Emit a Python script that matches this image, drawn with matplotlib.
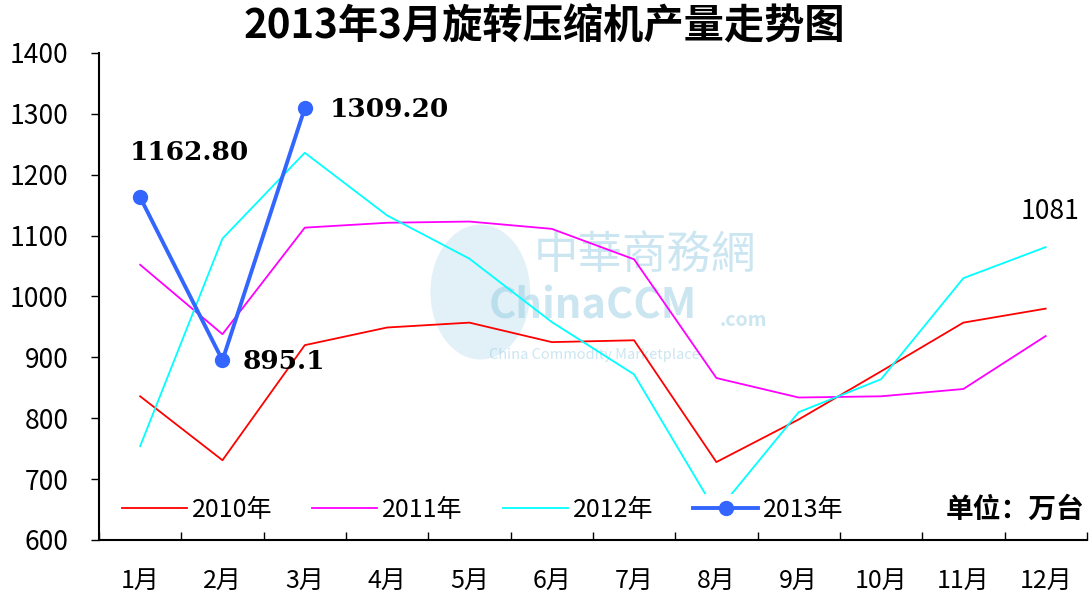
import matplotlib
matplotlib.use("Agg")
import matplotlib.pyplot as plt
from matplotlib.patches import Ellipse
import numpy as np

plt.rcParams['font.family'] = ['Noto Sans CJK SC', 'DejaVu Sans']

months = ['1月', '2月', '3月', '4月', '5月', '6月', '7月', '8月', '9月', '10月', '11月', '12月']
y2010 = [836, 731, 920, 949, 957, 925, 928, 728, 798, 877, 957, 980]
y2011 = [1052, 938, 1113, 1121, 1123, 1111, 1061, 866, 834, 836, 848, 935]
y2012 = [754, 1095, 1236, 1133, 1062, 958, 872, 645, 810, 864, 1030, 1081]
y2013 = [1162.8, 895.1, 1309.2]

fig = plt.figure(figsize=(10.89, 6.01), dpi=100, facecolor='white')
ax = fig.add_axes([0.0909, 0.1015, 0.9071, 0.8105])

x = np.arange(len(months))
ax.plot(x, y2010, color='#FF0000', lw=1.3, label='2010年')
ax.plot(x, y2011, color='#FF00FF', lw=1.3, label='2011年')
ax.plot(x, y2012, color='#00FFFF', lw=1.3, label='2012年')
ax.plot(x[:3], y2013, color='#3366FF', lw=2.8, marker='o', markersize=10, label='2013年')

ax.set_xlim(-0.5, 11.5)
ax.set_ylim(600, 1400)
ax.set_yticks(range(600, 1401, 100))
ax.set_xticks(x)
ax.set_xticklabels(months, fontsize=18)
ax.set_xticks(np.arange(-0.5, 12, 1), minor=True)
ax.tick_params(axis='x', which='major', length=0, pad=20)
ax.tick_params(axis='x', which='minor', direction='in', length=6, width=1)
ax.tick_params(axis='y', direction='out', length=6, width=1, labelsize=19, pad=16)
for s in ['top', 'right']:
    ax.spines[s].set_visible(False)
for s in ['left', 'bottom']:
    ax.spines[s].set_linewidth(1.5)

# watermark
ax.add_patch(Ellipse((0.386, 0.509), 0.101, 0.277, transform=ax.transAxes,
                     facecolor='#bfe0ee', edgecolor='none', alpha=0.45, zorder=0))
ax.text(0.44, 0.585, '中華商務網', transform=ax.transAxes, fontsize=32, color='#8cc8e2',
        alpha=0.45, ha='left', va='center', zorder=0)
ax.text(0.395, 0.48, 'ChinaCCM', transform=ax.transAxes, fontsize=30, color='#8cc8e2',
        alpha=0.45, ha='left', va='center', fontweight='bold', zorder=0)
ax.text(0.628, 0.45, '.com', transform=ax.transAxes, fontsize=14, color='#8cc8e2',
        alpha=0.45, ha='left', va='center', fontweight='bold', zorder=0)
ax.text(0.395, 0.38, 'China Commodity Marketplace', transform=ax.transAxes, fontsize=10.5,
        color='#8cc8e2', alpha=0.45, ha='left', va='center', zorder=0)

# data labels
ax.text(-0.13, 1236, '%.2f' % y2013[0], ha='left', va='center', fontsize=19, fontweight='bold',
        family=['DejaVu Serif'])
ax.text(2.3, 1307, '%.2f' % y2013[2], ha='left', va='center', fontsize=19, fontweight='bold',
        family=['DejaVu Serif'])
ax.text(1.25, 893, '%.1f' % y2013[1], ha='left', va='center', fontsize=19, fontweight='bold',
        family=['DejaVu Serif'])
ax.text(11.05, 1139, '%d' % y2012[11], ha='center', va='center', fontsize=19)

leg = ax.legend(loc='center left', bbox_to_anchor=(0.008, 0.062), ncol=4, frameon=True,
                framealpha=1, facecolor='white', edgecolor='none', fontsize=18,
                handlelength=2.6, handletextpad=0.2, columnspacing=1.6, borderpad=0.1)
leg.set_zorder(5)
ax.text(0.998, 0.062, '单位：万台', transform=ax.transAxes, ha='right', va='center',
        fontsize=20, fontweight='bold')

fig.suptitle('2013年3月旋转压缩机产量走势图', fontsize=29, fontweight='bold', y=0.99)

fig.savefig('out.png', dpi=100, facecolor='white')
